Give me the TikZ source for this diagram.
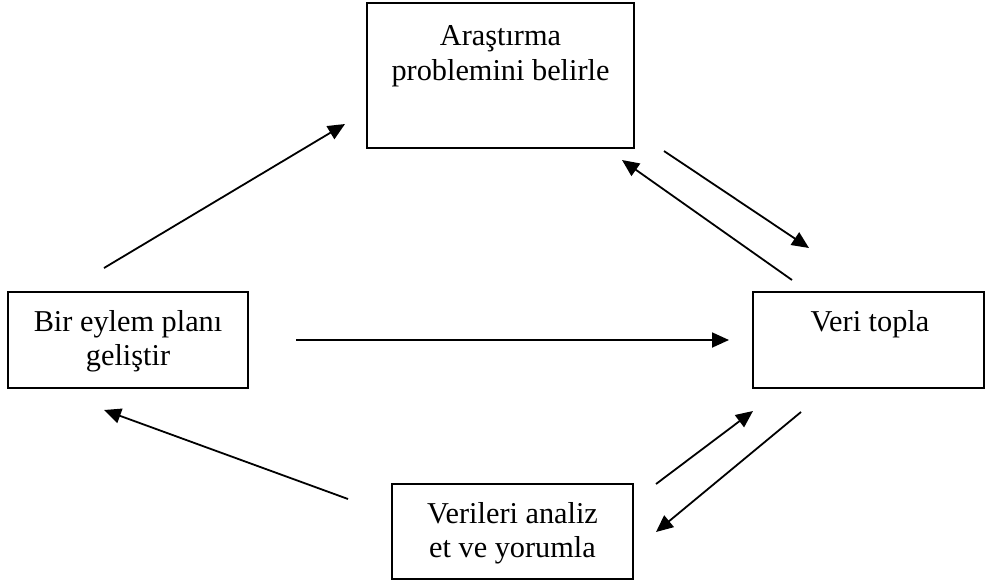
\documentclass[tikz,border=0pt]{standalone}
\usepackage{fontspec}
\setmainfont{Liberation Serif}
\usetikzlibrary{arrows.meta}
\begin{document}
\begin{tikzpicture}[x=1pt,y=-1pt,
  boxnode/.style={draw,line width=1.8pt,minimum width=#1,inner sep=0pt},
  txt/.style={align=center,inner sep=0pt,font=\fontsize{30.3}{34.5}\selectfont},
  conn/.style={line width=1.8pt,-{Triangle[length=17pt,width=15pt]}}]
\useasboundingbox (0,0) rectangle (988,582);
% boxes
\node[boxnode=267pt,minimum height=145pt] (top) at (500.5,75.5) {};
\node[boxnode=240pt,minimum height=96pt] (left) at (128,340) {};
\node[boxnode=231pt,minimum height=96pt] (right) at (868.5,340) {};
\node[boxnode=241pt,minimum height=95pt] (bottom) at (512.5,531.5) {};
% texts
\node[txt] (toptxt) at (500.5,56) {Araştırma\\problemini belirle};
\node[txt] (lefttxt) at (128,341) {Bir eylem planı\\geliştir};
\node[txt] (righttxt) at (870,324) {Veri topla};
\node[txt] (bottomtxt) at (512.5,533) {Verileri analiz\\et ve yorumla};
% connector endpoints
\coordinate (a1s) at (104,268); \coordinate (a1e) at (345,124);
\coordinate (a2s) at (664,151); \coordinate (a2e) at (809,248);
\coordinate (a3s) at (792,280); \coordinate (a3e) at (622,160);
\coordinate (a4s) at (296,340); \coordinate (a4e) at (729,340);
\coordinate (a5s) at (656,484); \coordinate (a5e) at (753,411);
\coordinate (a6s) at (801,412); \coordinate (a6e) at (656,532);
\coordinate (a7s) at (348,499); \coordinate (a7e) at (104,410);
\draw[conn] (a1s) -- (a1e);
\draw[conn] (a2s) -- (a2e);
\draw[conn] (a3s) -- (a3e);
\draw[conn] (a4s) -- (a4e);
\draw[conn] (a5s) -- (a5e);
\draw[conn] (a6s) -- (a6e);
\draw[conn] (a7s) -- (a7e);
\end{tikzpicture}
\end{document}
